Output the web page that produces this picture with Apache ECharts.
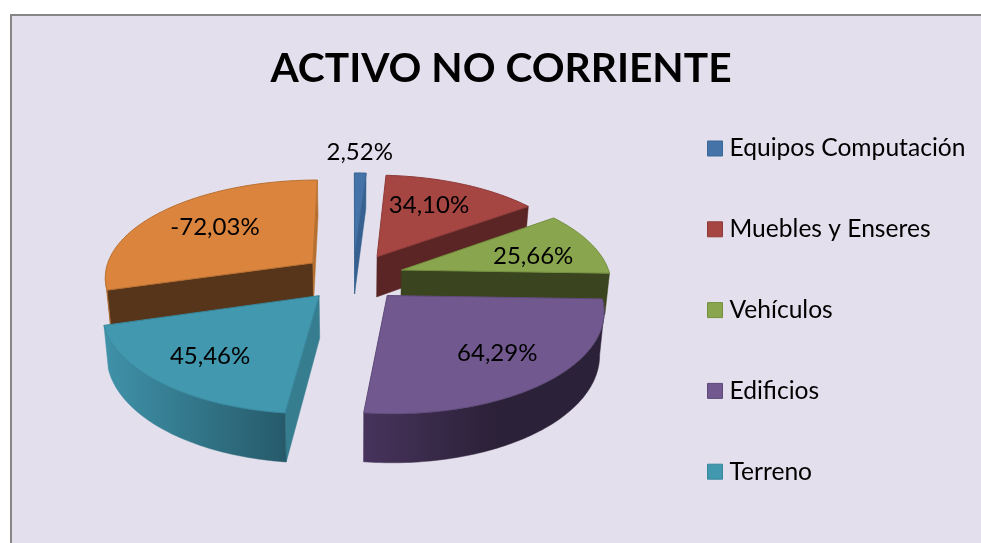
<!DOCTYPE html>
<html>
<head>
<meta charset="utf-8">
<style>
  html, body { margin: 0; padding: 0; background: #fff; }
  #chart { width: 981px; height: 543px; }
</style>
<script src="https://cdn.jsdelivr.net/npm/echarts@6/dist/echarts.min.js"></script>
</head>
<body>
<div id="chart"></div>
<script>
const titleText = 'ACTIVO NO CORRIENTE'
// the sixth legend entry falls below the cropped picture, so orange has no readable name
const categories = ['Equipos Computación', 'Muebles y Enseres', 'Vehículos', 'Edificios', 'Terreno', '']
const values = [2.52, 34.10, 25.66, 64.29, 45.46, -72.03]

const topColors = ['#4572A7', '#A54643', '#89A54E', '#71588F', '#4198AF', '#DB843D']
const edgeColors = ['#3A6899', '#8F3A38', '#74903F', '#5F4A79', '#37879D', '#B87030']
const startCutColors = ['#35608F', '#5A2524', '#3A441F', '#2C2239', '#357D8F', '#57351A']
const endCutColors = ['#35608F', '#5A2524', '#3A441F', '#2C2239', '#357D8F', '#B5702F']
const wallColors = [
  ['#35608F', '#35608F'], ['#5A2524', '#5A2524'], ['#3A441F', '#3A441F'],
  ['#47335C', '#2B2138'], ['#3F92A9', '#265A6A'], ['#B5702F', '#A8682C']
]
// how far along the rim (left to right) the wall reaches its dark colour
const wallDarkAt = [1, 1, 1, 0.55, 1, 1]
// back slices first so the front ones cover their walls
const paintOrder = [0, 1, 5, 2, 3, 4]
// small px corrections to the best-fit label spots
const labelShift = [[-2, 0], [-10, 1], [-2, 5], [2, -1], [-2, 2], [9, 2]]

// projection of the tilted disc
const cx = 353, cy = 277
const scaleX = 209, scaleY = 97.3, persp = 0.1317
const explode = 0.245, depth = 41.4, bottomShrink = 0.982

const total = values.reduce((s, v) => s + Math.abs(v), 0)
const rad = d => d * Math.PI / 180

const project = (x, y, low) => {
  const w = 1 - persp * y
  const u = scaleX * x / w
  const v = scaleY * y / w
  return low ? [cx + u * bottomShrink, cy + v + depth / w] : [cx + u, cy + v]
}

let acc = 0
const slices = values.map(v => {
  const a0 = acc
  acc += Math.abs(v) / total * 360
  return { a0, a1: acc, mid: (a0 + acc) / 2 }
})

const slicePoint = (s, a, r, low) => {
  const x = explode * Math.sin(rad(s.mid)) + r * Math.sin(rad(a))
  const y = -explode * Math.cos(rad(s.mid)) - r * Math.cos(rad(a))
  return project(x, y, low)
}

const poly = (points, fill, stroke) => ({
  type: 'polygon',
  shape: { points },
  style: { fill, stroke: stroke || fill, lineWidth: stroke ? 1 : 0.5 }
})

const cross = (a, b, c) => (b[0] - a[0]) * (c[1] - b[1]) - (b[1] - a[1]) * (c[0] - b[0])

const renderSlice = i => () => {
  const s = slices[i]
  const children = []
  const apexTop = slicePoint(s, s.mid, 0, false)
  const apexLow = slicePoint(s, s.mid, 0, true)

  // flat cut faces
  const startTop = slicePoint(s, s.a0, 1, false)
  const startLow = slicePoint(s, s.a0, 1, true)
  const endTop = slicePoint(s, s.a1, 1, false)
  const endLow = slicePoint(s, s.a1, 1, true)
  if (cross(apexTop, startTop, startLow) < 0) {
    children.push(poly([apexTop, startTop, startLow, apexLow], startCutColors[i]))
  }
  if (cross(apexTop, endTop, endLow) > 0) {
    children.push(poly([apexTop, endTop, endLow, apexLow], endCutColors[i]))
  }

  // outer rim, only the part turned towards the viewer
  const arc = []
  const steps = Math.max(2, Math.ceil(s.a1 - s.a0))
  for (let k = 0; k <= steps; k++) arc.push(s.a0 + (s.a1 - s.a0) * k / steps)
  const tops = arc.map(a => slicePoint(s, a, 1, false))
  const lows = arc.map(a => slicePoint(s, a, 1, true))
  const facing = []
  for (let k = 0; k < steps; k++) {
    if (tops[k + 1][0] < tops[k][0]) {
      if (!facing.length) facing.push(k)
      facing.push(k + 1)
    }
  }
  if (facing.length > 1) {
    const pts = facing.map(k => tops[k]).concat(facing.map(k => lows[k]).reverse())
    children.push(poly(pts, new echarts.graphic.LinearGradient(0, 0, 1, 0, [
      { offset: 0, color: wallColors[i][0] },
      { offset: wallDarkAt[i], color: wallColors[i][1] },
      { offset: 1, color: wallColors[i][1] }
    ])))
  }

  // top surface
  children.push(poly([apexTop].concat(tops), topColors[i], edgeColors[i]))

  // label sits on the slice, tiny slices get it outside
  const share = Math.abs(values[i]) / total
  const pos = slicePoint(s, s.mid, share < 0.05 ? 1.3 : 0.7, false)
  children.push({
    type: 'text',
    z2: 10,
    style: {
      x: pos[0] + labelShift[i][0],
      y: pos[1] + labelShift[i][1],
      text: values[i].toFixed(2).replace('.', ',') + '%',
      fill: '#000',
      font: '24px Lato',
      align: 'center',
      verticalAlign: 'middle'
    }
  })
  return { type: 'group', children }
}

const option = {
  animation: false,
  backgroundColor: '#fff',
  graphic: [{
    type: 'rect',
    z: -10,
    shape: { x: 11, y: 15, width: 1100, height: 700 },
    style: { fill: '#E4DFEC', stroke: '#868686', lineWidth: 2 }
  }],
  title: {
    text: titleText,
    left: 496,
    top: 43,
    textAlign: 'center',
    textStyle: { fontFamily: 'Lato', fontWeight: 'bold', fontSize: 40.7, color: '#000' }
  },
  legend: {
    orient: 'vertical',
    left: 702,
    top: 131,
    itemWidth: 15,
    itemHeight: 15,
    itemGap: 55.8,
    icon: 'rect',
    selectedMode: false,
    textStyle: { fontFamily: 'Lato', fontSize: 24.6, color: '#000', padding: [0, 0, 0, 2] },
    data: categories.slice(0, 5).map((name, i) => ({
      name,
      itemStyle: { color: topColors[i], borderColor: edgeColors[i], borderWidth: 1 }
    }))
  },
  series: paintOrder.map(i => ({
    type: 'custom',
    name: categories[i],
    coordinateSystem: 'none',
    silent: true,
    data: [[Math.abs(values[i])]],
    itemStyle: { color: topColors[i] },
    renderItem: renderSlice(i)
  }))
}

const chart = echarts.init(document.getElementById('chart'))
chart.setOption(option)
window.addEventListener('resize', () => chart.resize())
</script>
</body>
</html>
